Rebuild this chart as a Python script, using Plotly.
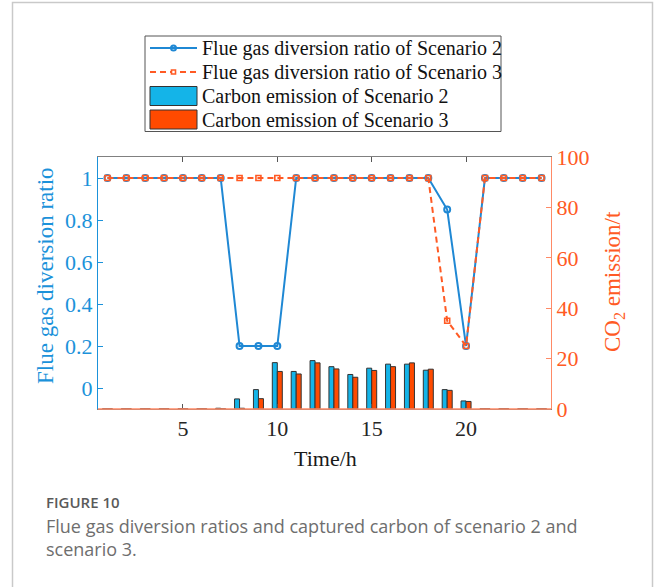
import plotly.graph_objects as go

# ---- data -------------------------------------------------------------
hours = list(range(1, 25))

ratio_s2 = [1, 1, 1, 1, 1, 1, 1, 0.2, 0.2, 0.2, 1, 1, 1, 1, 1, 1, 1, 1,
            0.85, 0.2, 1, 1, 1, 1]
ratio_s3 = [1, 1, 1, 1, 1, 1, 1, 1, 1, 1, 1, 1, 1, 1, 1, 1, 1, 1,
            0.32, 0.2, 1, 1, 1, 1]

emission_s2 = [0.1, 0.1, 0.1, 0.1, 0.1, 0.1, 0.3, 4.0, 7.7, 18.4, 14.9, 19.2,
               16.8, 13.7, 16.2, 17.8, 17.8, 15.4, 7.7, 3.2, 0.1, 0.1, 0.1, 0.1]
emission_s3 = [0.1, 0.1, 0.1, 0.1, 0.1, 0.1, 0.1, 0.3, 4.1, 14.9, 13.9, 18.3,
               15.9, 12.6, 15.3, 16.8, 18.3, 15.8, 7.4, 3.0, 0.1, 0.1, 0.1, 0.1]

x_ticks = [5, 10, 15, 20]
left_ticks = [0, 0.2, 0.4, 0.6, 0.8, 1]
left_tick_text = ["0", "0.2", "0.4", "0.6", "0.8", "1"]
right_ticks = [0, 20, 40, 60, 80, 100]

legend_labels = [
    "Flue gas diversion ratio of Scenario 2",
    "Flue gas diversion ratio of Scenario 3",
    "Carbon emission of Scenario 2",
    "Carbon emission of Scenario 3",
]

# ---- styling ----------------------------------------------------------
W, H = 657, 587
PL, PR, PT, PB = 98, 551, 157, 409          # plot-area edges in pixels
SERIF = "Liberation Serif, Times New Roman, serif"
SANS = "Open Sans, Lato, sans-serif"
BLUE = "#1f88d4"
AXIS_BLUE = "#1b92da"
ORANGE = "#ff5a24"
AXIS_ORANGE = "#ff8a66"
CYAN_BAR = "#14b4e8"
ORANGE_BAR = "#ff4a00"
EDGE = "#333333"


def px(xp):
    return (xp - PL) / (PR - PL)


def py(yp):
    return (PB - yp) / (PB - PT)


fig = go.Figure()

# hourly captured carbon (right axis)
fig.add_trace(go.Bar(x=hours, y=emission_s2, yaxis="y2", name=legend_labels[2],
                     marker=dict(color=CYAN_BAR, line=dict(color=EDGE, width=1))))
fig.add_trace(go.Bar(x=hours, y=emission_s3, yaxis="y2", name=legend_labels[3],
                     marker=dict(color=ORANGE_BAR, line=dict(color=EDGE, width=1))))

# diversion ratios (left axis)
fig.add_trace(go.Scatter(x=hours, y=ratio_s2, mode="lines+markers", name=legend_labels[0],
                         line=dict(color=BLUE, width=2),
                         marker=dict(symbol="circle-open", size=6, color=BLUE,
                                     line=dict(width=2))))
fig.add_trace(go.Scatter(x=hours, y=ratio_s3, mode="lines+markers", name=legend_labels[1],
                         line=dict(color=ORANGE, width=2, dash="6px,4px"),
                         marker=dict(symbol="square-open", size=5, color=ORANGE,
                                     line=dict(width=1.6))))

shapes = []
annotations = []

# outer card frame
shapes.append(dict(type="rect", xref="paper", yref="paper",
                   x0=px(12.5), x1=px(652.5), y0=py(2.5), y1=py(600),
                   line=dict(color="#c9c9c9", width=1.5), layer="below"))

# coloured baseline along the bottom edge
shapes.append(dict(type="line", xref="paper", yref="paper",
                   x0=0, x1=1, y0=0, y1=0,
                   line=dict(color=AXIS_ORANGE, width=1.5), layer="above"))

# legend box
shapes.append(dict(type="rect", xref="paper", yref="paper",
                   x0=px(145), x1=px(501), y0=py(36), y1=py(131.5),
                   line=dict(color="#555555", width=1), fillcolor="white"))
rows = [48, 72, 96, 119.5]
# row 1: solid line with circle
shapes.append(dict(type="line", xref="paper", yref="paper",
                   x0=px(150), x1=px(197), y0=py(rows[0]), y1=py(rows[0]),
                   line=dict(color=BLUE, width=2)))
shapes.append(dict(type="circle", xref="paper", yref="paper",
                   x0=px(171), x1=px(176), y0=py(rows[0] - 2.5), y1=py(rows[0] + 2.5),
                   line=dict(color=BLUE, width=2)))
# row 2: dashed line with square
shapes.append(dict(type="line", xref="paper", yref="paper",
                   x0=px(150), x1=px(197), y0=py(rows[1]), y1=py(rows[1]),
                   line=dict(color=ORANGE, width=2, dash="6px,4px")))
shapes.append(dict(type="rect", xref="paper", yref="paper",
                   x0=px(171.5), x1=px(175.5), y0=py(rows[1] - 2), y1=py(rows[1] + 2),
                   line=dict(color=ORANGE, width=1.6), fillcolor="white"))
# rows 3-4: filled patches
shapes.append(dict(type="rect", xref="paper", yref="paper",
                   x0=px(150), x1=px(197), y0=py(rows[2] - 9.5), y1=py(rows[2] + 9.5),
                   line=dict(color=EDGE, width=1), fillcolor=CYAN_BAR))
shapes.append(dict(type="rect", xref="paper", yref="paper",
                   x0=px(150), x1=px(197), y0=py(rows[3] - 9.5), y1=py(rows[3] + 9.5),
                   line=dict(color=EDGE, width=1), fillcolor=ORANGE_BAR))
for label, yr in zip(legend_labels, rows):
    annotations.append(dict(xref="paper", yref="paper", x=px(200), y=py(yr),
                            xanchor="left", yanchor="middle", showarrow=False,
                            text=label, font=dict(family=SERIF, size=20, color="#111111")))

# axis titles
annotations.append(dict(xref="paper", yref="paper", x=px(45), y=py(276),
                        textangle=-90, showarrow=False, xanchor="center", yanchor="middle",
                        text="Flue gas diversion ratio",
                        font=dict(family=SERIF, size=23, color=AXIS_BLUE)))
annotations.append(dict(xref="paper", yref="paper", x=px(614), y=py(282),
                        textangle=-90, showarrow=False, xanchor="center", yanchor="middle",
                        text="CO<sub>2</sub> emission/t",
                        font=dict(family=SERIF, size=23, color=ORANGE)))
annotations.append(dict(xref="paper", yref="paper", x=px(325), y=py(458),
                        showarrow=False, xanchor="center", yanchor="middle",
                        text="Time/h", font=dict(family=SERIF, size=22, color="#1a1a1a")))

# caption
annotations.append(dict(xref="paper", yref="paper", x=px(44), y=py(502),
                        showarrow=False, xanchor="left", yanchor="middle",
                        text="FIGURE 10",
                        font=dict(family=SANS, size=15, color="#5a5a5a", weight=600)))
annotations.append(dict(xref="paper", yref="paper", x=px(44), y=py(526),
                        showarrow=False, xanchor="left", yanchor="middle",
                        text="Flue gas diversion ratios and captured carbon of scenario 2 and",
                        font=dict(family=SANS, size=18, color="#6e6e6e")))
annotations.append(dict(xref="paper", yref="paper", x=px(44), y=py(549),
                        showarrow=False, xanchor="left", yanchor="middle",
                        text="scenario 3.",
                        font=dict(family=SANS, size=18, color="#6e6e6e")))

fig.update_layout(
    width=W, height=H,
    margin=dict(l=PL, r=W - PR, t=PT, b=H - PB, pad=0),
    paper_bgcolor="white", plot_bgcolor="white",
    showlegend=False,
    barmode="group", bargap=0.47, bargroupgap=0,
    xaxis=dict(range=[0.5, 24.5], tickvals=x_ticks, ticks="inside", ticklen=5,
               tickcolor="#555555", showline=True, linecolor="#808080", linewidth=1,
               mirror="ticks", showgrid=False, zeroline=False,
               tickfont=dict(family=SERIF, size=22, color="#262626")),
    yaxis=dict(range=[-0.1, 1.1], tickvals=left_ticks, ticktext=left_tick_text,
               ticks="inside", ticklen=5, tickcolor=AXIS_BLUE, showline=True,
               linecolor=AXIS_BLUE, linewidth=1, showgrid=False, zeroline=False,
               tickfont=dict(family=SERIF, size=22, color=AXIS_BLUE)),
    yaxis2=dict(range=[0, 100], tickvals=right_ticks, overlaying="y", side="right",
                ticks="inside", ticklen=5, tickcolor=AXIS_ORANGE, showline=True,
                linecolor=AXIS_ORANGE, linewidth=1, showgrid=False, zeroline=False,
                tickfont=dict(family=SERIF, size=22, color=ORANGE)),
    shapes=shapes,
    annotations=annotations,
)

fig.write_html("out.html")
